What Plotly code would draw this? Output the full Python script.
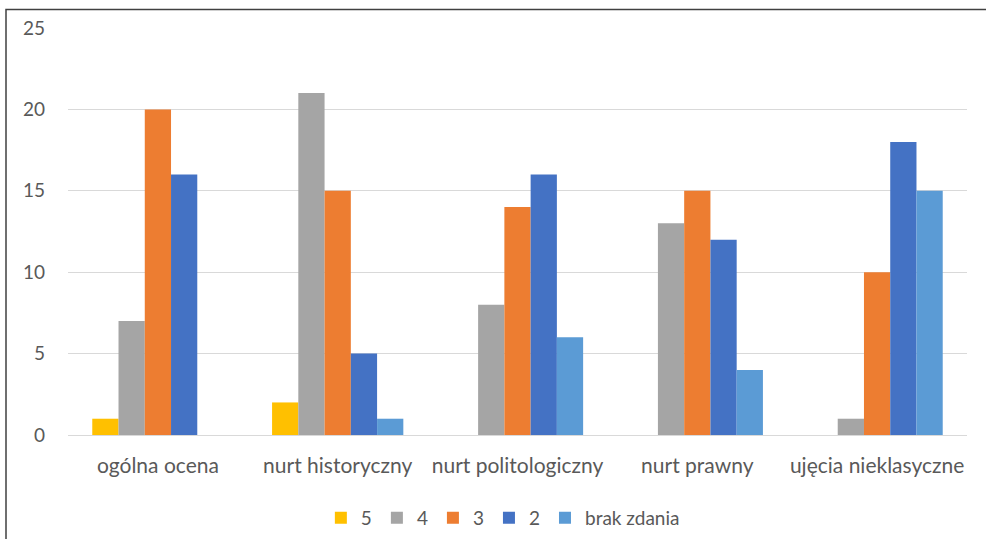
import plotly.graph_objects as go

categories = ["ogólna ocena", "nurt historyczny", "nurt politologiczny", "nurt prawny", "ujęcia nieklasyczne"]
series_names = ["5", "4", "3", "2", "brak zdania"]
vals_5 = [1, 2, 0, 0, 0]
vals_4 = [7, 21, 8, 13, 1]
vals_3 = [20, 15, 14, 15, 10]
vals_2 = [16, 5, 16, 12, 18]
vals_brak = [0, 1, 6, 4, 15]
colors = ["#FFC000", "#A5A5A5", "#ED7D31", "#4472C4", "#5B9BD5"]
y_ticks = [0, 5, 10, 15, 20, 25]

FONT = "Lato"
fig = go.Figure()
for name, vals, col in zip(series_names, [vals_5, vals_4, vals_3, vals_2, vals_brak], colors):
    fig.add_trace(go.Bar(x=categories, y=vals, name=name, marker=dict(color=col, line=dict(width=0))))

fig.update_layout(
    width=986, height=539,
    margin=dict(l=68, r=19, t=28, b=104, autoexpand=False),
    paper_bgcolor="white", plot_bgcolor="white",
    barmode="group", bargap=0.27, bargroupgap=0,
    font=dict(family=FONT, size=19, color="#595959"),
    showlegend=True,
    legend=dict(orientation="h", xref="container", yref="container",
                x=0.51, xanchor="center", y=1 - 518 / 539, yanchor="middle",
                font=dict(size=19, color="#595959"), itemwidth=30, traceorder="normal"),
    xaxis=dict(showgrid=False, showline=True, linecolor="#D9D9D9", linewidth=1, automargin=False,
               ticks="", ticklabelstandoff=12, tickfont=dict(size=21)),
    yaxis=dict(range=[0, 25], tickvals=y_ticks, showgrid=True, gridcolor="#D9D9D9", automargin=False,
               gridwidth=1, zeroline=False, showline=False, ticks="",
               ticklabelstandoff=22, tickfont=dict(size=19)),
    shapes=[dict(type="rect", xref="paper", yref="paper",
                 x0=(6 - 68) / 899, x1=(992 - 68) / 899,
                 y0=-(548 - 435) / 406.7, y1=1 + (28 - 9.5) / 406.7,
                 line=dict(color="#404040", width=1.5), fillcolor="rgba(0,0,0,0)")],
)
fig.write_html("out.html", config={"displayModeBar": False},
               post_script="document.body.style.margin='0';")
